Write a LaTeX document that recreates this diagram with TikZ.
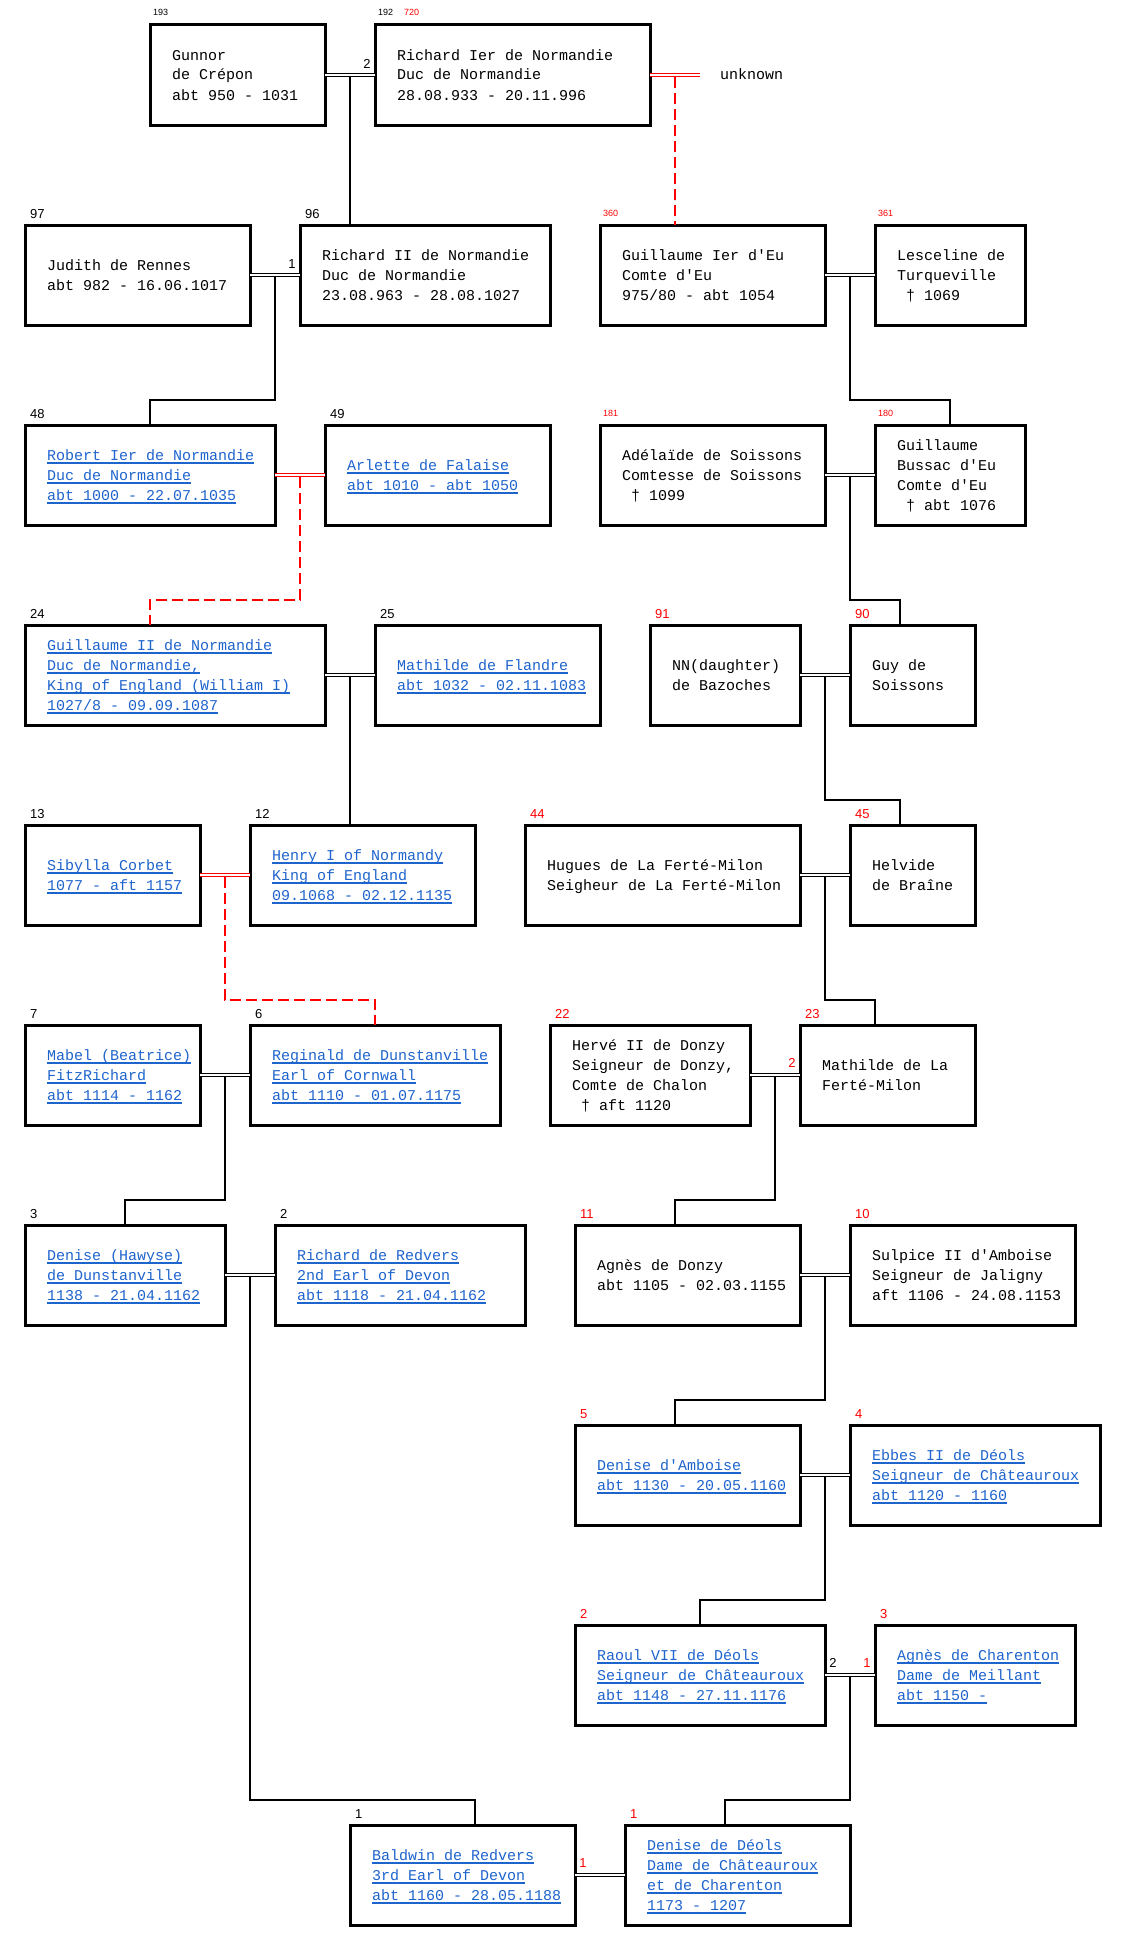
\documentclass[tikz,border=0pt]{standalone}
\usepackage{fontspec}
\usetikzlibrary{calc}
\newfontfamily\monof{Liberation Mono}
\newfontfamily\sansf{Liberation Sans}
\definecolor{lnk}{RGB}{30,100,205}
\newcommand\ulx[1]{\sbox0{#1}\rlap{\rule[-3.5pt]{\wd0}{1.1pt}}\usebox0}
\newcommand\pl[1]{\hbox{#1}}
\newcommand\lk[1]{\hbox{\color{lnk}\ulx{#1}}}
\newcommand\person[6]{%
  \node[pbox, minimum width=#4pt] (#1) at (#2,#3) {};
  \node[ptext] (#1-t) at ($(#1.west)+(22,{5-(#5-1)*10})$) {\vtop{\baselineskip=20pt\lineskiplimit=-20pt\lineskip=0pt #6}};}
\newcommand\kidline[4]{\draw[#4] ($(#1)+(0,2)$) |- ($(#2.north west)+(#3,-25)$) -- ($(#2.north west)+(#3,0)$);}
\newcommand\nlab[3][]{\node[numl,#1] (#2-n) at ($(#2.north west)+(5,-7)$) {#3};}
\newcommand\slab[3][]{\node[smalll,#1] (#2-n) at ($(#2.north west)+(3,-9)$) {#3};}
\begin{document}
\begin{tikzpicture}[x=1pt,y=-1pt,
  pbox/.style={draw, line width=3pt, inner sep=0pt, outer sep=0pt, anchor=north west, minimum height=100pt},
  ptext/.style={anchor=base west, inner sep=0pt, font=\monof\fontsize{15}{20}\selectfont},
  numl/.style={anchor=base west, inner sep=0pt, font=\sansf\fontsize{13}{15}\selectfont},
  smalll/.style={anchor=base west, inner sep=0pt, font=\sansf\fontsize{9}{11}\selectfont},
  mlab/.style={anchor=center, inner sep=0pt, font=\sansf\fontsize{13}{15}\selectfont},
  cpl/.style={line width=1pt, double distance=1.5pt},
  cplr/.style={cpl, draw=red},
  kid/.style={line width=2.2pt},
  kidr/.style={line width=2.5pt, draw=red, dash pattern=on 11pt off 5pt},
]
\fill[white] (0,0) rectangle (1126,1951);
\useasboundingbox (0,0) rectangle (1126,1951);

% persons
\person{gunnor}{150}{25}{175}{3}{\pl{Gunnor}\pl{de Crépon}\pl{abt 950 - 1031}}
\person{richard1}{375}{25}{275}{3}{\pl{Richard Ier de Normandie}\pl{Duc de Normandie}\pl{28.08.933 - 20.11.996}}
\person{judith}{25}{225}{225}{2}{\pl{Judith de Rennes}\pl{abt 982 - 16.06.1017}}
\person{richard2}{300}{225}{250}{3}{\pl{Richard II de Normandie}\pl{Duc de Normandie}\pl{23.08.963 - 28.08.1027}}
\person{guill1}{600}{225}{225}{3}{\pl{Guillaume Ier d'Eu}\pl{Comte d'Eu}\pl{975/80 - abt 1054}}
\person{lesc}{875}{225}{150}{3}{\pl{Lesceline de}\pl{Turqueville}\pl{\ † 1069}}
\person{robert}{25}{425}{250}{3}{\lk{Robert Ier de Normandie}\lk{Duc de Normandie}\lk{abt 1000 - 22.07.1035}}
\person{arlette}{325}{425}{225}{2}{\lk{Arlette de Falaise}\lk{abt 1010 - abt 1050}}
\person{adel}{600}{425}{225}{3}{\pl{Adélaïde de Soissons}\pl{Comtesse de Soissons}\pl{\ † 1099}}
\person{gbussac}{875}{425}{150}{4}{\pl{Guillaume}\pl{Bussac d'Eu}\pl{Comte d'Eu}\pl{\ † abt 1076}}
\person{guill2}{25}{625}{300}{4}{\lk{Guillaume II de Normandie}\lk{Duc de Normandie,}\lk{King of England (William I)}\lk{1027/8 - 09.09.1087}}
\person{mathf}{375}{625}{225}{2}{\lk{Mathilde de Flandre}\lk{abt 1032 - 02.11.1083}}
\person{nn}{650}{625}{150}{2}{\pl{NN(daughter)}\pl{de Bazoches}}
\person{guy}{850}{625}{125}{2}{\pl{Guy de}\pl{Soissons}}
\person{sibylla}{25}{825}{175}{2}{\lk{Sibylla Corbet}\lk{1077 - aft 1157}}
\person{henry}{250}{825}{225}{3}{\lk{Henry I of Normandy}\lk{King of England}\lk{09.1068 - 02.12.1135}}
\person{hugues}{525}{825}{275}{2}{\pl{Hugues de La Ferté-Milon}\pl{Seigheur de La Ferté-Milon}}
\person{helvide}{850}{825}{125}{2}{\pl{Helvide}\pl{de Braîne}}
\person{mabel}{25}{1025}{175}{3}{\lk{Mabel (Beatrice)}\lk{FitzRichard}\lk{abt 1114 - 1162}}
\person{reginald}{250}{1025}{250}{3}{\lk{Reginald de Dunstanville}\lk{Earl of Cornwall}\lk{abt 1110 - 01.07.1175}}
\person{herve}{550}{1025}{200}{4}{\pl{Hervé II de Donzy}\pl{Seigneur de Donzy,}\pl{Comte de Chalon}\pl{\ † aft 1120}}
\person{mathlf}{800}{1025}{175}{2}{\pl{Mathilde de La}\pl{Ferté-Milon}}
\person{denh}{25}{1225}{200}{3}{\lk{Denise (Hawyse)}\lk{de Dunstanville}\lk{1138 - 21.04.1162}}
\person{richr}{275}{1225}{250}{3}{\lk{Richard de Redvers}\lk{2nd Earl of Devon}\lk{abt 1118 - 21.04.1162}}
\person{agnesd}{575}{1225}{225}{2}{\pl{Agnès de Donzy}\pl{abt 1105 - 02.03.1155}}
\person{sulpice}{850}{1225}{225}{3}{\pl{Sulpice II d'Amboise}\pl{Seigneur de Jaligny}\pl{aft 1106 - 24.08.1153}}
\person{denisea}{575}{1425}{225}{2}{\lk{Denise d'Amboise}\lk{abt 1130 - 20.05.1160}}
\person{ebbes}{850}{1425}{250}{3}{\lk{Ebbes II de Déols}\lk{Seigneur de Châteauroux}\lk{abt 1120 - 1160}}
\person{raoul}{575}{1625}{250}{3}{\lk{Raoul VII de Déols}\lk{Seigneur de Châteauroux}\lk{abt 1148 - 27.11.1176}}
\person{agnesc}{875}{1625}{200}{3}{\lk{Agnès de Charenton}\lk{Dame de Meillant}\lk{abt 1150 -}}
\person{baldwin}{350}{1825}{225}{3}{\lk{Baldwin de Redvers}\lk{3rd Earl of Devon}\lk{abt 1160 - 28.05.1188}}
\person{denised}{625}{1825}{225}{4}{\lk{Denise de Déols}\lk{Dame de Châteauroux}\lk{et de Charenton}\lk{1173 - 1207}}

% numbers above boxes
\slab{gunnor}{193}
\slab{richard1}{192}
\node[smalll, text=red] (richard1-n2) at ($(richard1.north west)+(29,-9)$) {720};
\slab[text=red]{guill1}{360}
\slab[text=red]{lesc}{361}
\slab[text=red]{adel}{181}
\slab[text=red]{gbussac}{180}
\nlab{judith}{97}
\nlab{richard2}{96}
\nlab{robert}{48}
\nlab{arlette}{49}
\nlab{guill2}{24}
\nlab{mathf}{25}
\nlab[text=red]{nn}{91}
\nlab[text=red]{guy}{90}
\nlab{sibylla}{13}
\nlab{henry}{12}
\nlab[text=red]{hugues}{44}
\nlab[text=red]{helvide}{45}
\nlab{mabel}{7}
\nlab{reginald}{6}
\nlab[text=red]{herve}{22}
\nlab[text=red]{mathlf}{23}
\nlab{denh}{3}
\nlab{richr}{2}
\nlab[text=red]{agnesd}{11}
\nlab[text=red]{sulpice}{10}
\nlab[text=red]{denisea}{5}
\nlab[text=red]{ebbes}{4}
\nlab[text=red]{raoul}{2}
\nlab[text=red]{agnesc}{3}
\nlab{baldwin}{1}
\nlab[text=red]{denised}{1}

% unknown partner
\coordinate (unkc) at (700,75);
\node[ptext] (unk) at (720,80) {unknown};

% couples and descent lines
\draw[cpl] (gunnor.east) -- (richard1.west);
\coordinate (c1) at ($(gunnor.east)!.5!(richard1.west)$);
\kidline{c1}{richard2}{50}{kid}

\draw[cplr] (richard1.east) -- (unkc);
\coordinate (c2) at ($(richard1.east)!.5!(unkc)$);
\kidline{c2}{guill1}{75}{kidr}

\draw[cpl] (judith.east) -- (richard2.west);
\coordinate (c3) at ($(judith.east)!.5!(richard2.west)$);
\kidline{c3}{robert}{125}{kid}

\draw[cpl] (guill1.east) -- (lesc.west);
\coordinate (c4) at ($(guill1.east)!.5!(lesc.west)$);
\kidline{c4}{gbussac}{75}{kid}

\draw[cplr] (robert.east) -- (arlette.west);
\coordinate (c5) at ($(robert.east)!.5!(arlette.west)$);
\kidline{c5}{guill2}{125}{kidr}

\draw[cpl] (adel.east) -- (gbussac.west);
\coordinate (c6) at ($(adel.east)!.5!(gbussac.west)$);
\kidline{c6}{guy}{50}{kid}

\draw[cpl] (guill2.east) -- (mathf.west);
\coordinate (c7) at ($(guill2.east)!.5!(mathf.west)$);
\kidline{c7}{henry}{100}{kid}

\draw[cpl] (nn.east) -- (guy.west);
\coordinate (c8) at ($(nn.east)!.5!(guy.west)$);
\kidline{c8}{helvide}{50}{kid}

\draw[cplr] (sibylla.east) -- (henry.west);
\coordinate (c9) at ($(sibylla.east)!.5!(henry.west)$);
\kidline{c9}{reginald}{125}{kidr}

\draw[cpl] (hugues.east) -- (helvide.west);
\coordinate (c10) at ($(hugues.east)!.5!(helvide.west)$);
\kidline{c10}{mathlf}{75}{kid}

\draw[cpl] (mabel.east) -- (reginald.west);
\coordinate (c11) at ($(mabel.east)!.5!(reginald.west)$);
\kidline{c11}{denh}{100}{kid}

\draw[cpl] (herve.east) -- (mathlf.west);
\coordinate (c12) at ($(herve.east)!.5!(mathlf.west)$);
\kidline{c12}{agnesd}{100}{kid}

\draw[cpl] (denh.east) -- (richr.west);
\coordinate (c13) at ($(denh.east)!.5!(richr.west)$);
\kidline{c13}{baldwin}{125}{kid}

\draw[cpl] (agnesd.east) -- (sulpice.west);
\coordinate (c14) at ($(agnesd.east)!.5!(sulpice.west)$);
\kidline{c14}{denisea}{100}{kid}

\draw[cpl] (denisea.east) -- (ebbes.west);
\coordinate (c15) at ($(denisea.east)!.5!(ebbes.west)$);
\kidline{c15}{raoul}{125}{kid}

\draw[cpl] (raoul.east) -- (agnesc.west);
\coordinate (c16) at ($(raoul.east)!.5!(agnesc.west)$);
\kidline{c16}{denised}{100}{kid}

\draw[cpl] (baldwin.east) -- (denised.west);

% marriage count labels
\node[mlab] (m1) at ($(richard1.west)+(-8,-11)$) {2};
\node[mlab] (m2) at ($(richard2.west)+(-8,-11)$) {1};
\node[mlab, text=red] (m3) at ($(mathlf.west)+(-8,-12)$) {2};
\node[mlab] (m4) at ($(raoul.east)+(8,-12)$) {2};
\node[mlab, text=red] (m5) at ($(agnesc.west)+(-8,-12)$) {1};
\node[mlab, text=red] (m6) at ($(baldwin.east)+(8,-12)$) {1};
\end{tikzpicture}
\end{document}
